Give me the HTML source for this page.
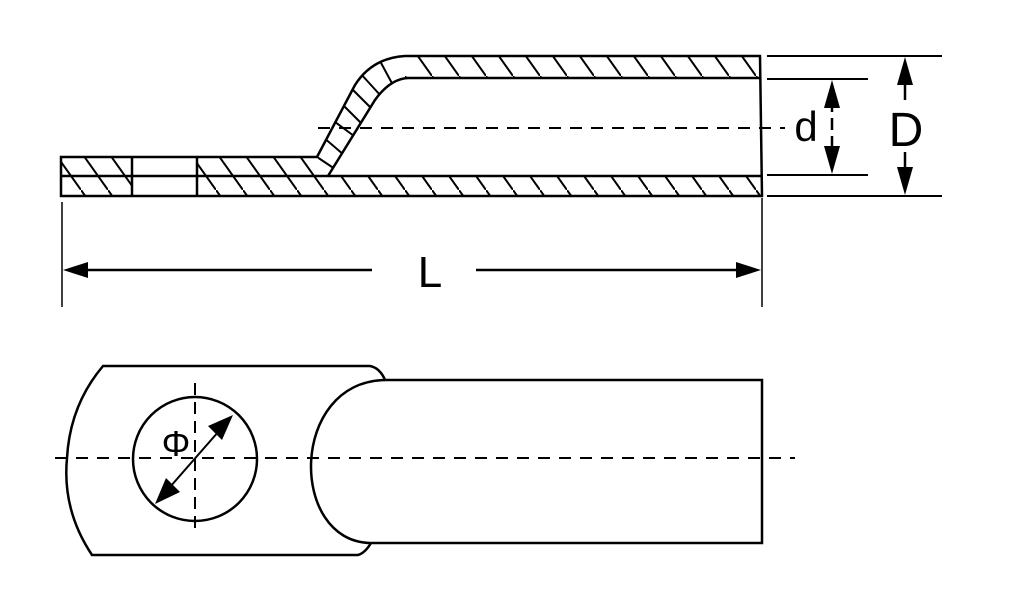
<!DOCTYPE html>
<html><head><style>html,body{margin:0;padding:0;background:#fff}svg{display:block}</style></head>
<body>
<svg width="1009" height="609" viewBox="0 0 1009 609" xmlns="http://www.w3.org/2000/svg">
<defs>
<pattern id="h" patternUnits="userSpaceOnUse" width="27" height="38">
<line x1="-2" y1="-2.8" x2="29" y2="40.8" stroke="#000" stroke-width="2"/>
</pattern>
<clipPath id="cband"><path d="M317,157 L355,85 Q372,58 405,56 L408,79 Q390,79 375,100 L328,176 Z"/></clipPath>
</defs>
<g fill="none" stroke="#000" stroke-width="2.5">
<rect x="61" y="157" width="71" height="39" fill="url(#h)" stroke="none"/>
<rect x="197" y="157" width="120" height="39" fill="url(#h)" stroke="none"/>
<rect x="317" y="176" width="444" height="20" fill="url(#h)" stroke="none"/>
<rect x="405" y="56" width="355" height="22" fill="url(#h)" stroke="none"/>
<g clip-path="url(#cband)" stroke-width="2">
<line x1="314" y1="155" x2="335" y2="169"/>
<line x1="323" y1="137" x2="344" y2="155"/>
<line x1="331" y1="119" x2="354" y2="136"/>
<line x1="341" y1="103" x2="362" y2="124"/>
<line x1="351" y1="88" x2="372" y2="109"/>
<line x1="360" y1="73" x2="381" y2="96"/>
<line x1="380" y1="61" x2="394" y2="87"/>
</g>
<path d="M61,157 L317,157 L355,85 Q372,58 405,56 L760,56 L762,196 L61,196 Z"/>
<path d="M61,176 L328,176 L375,100 Q390,79 408,78 L760,78"/>
<line x1="328" y1="176" x2="762" y2="176"/>
<line x1="132" y1="157" x2="132" y2="196"/>
<line x1="197" y1="157" x2="197" y2="196"/>
</g>
<g stroke="#000" stroke-width="2" fill="none">
<line x1="318" y1="128" x2="785" y2="128" stroke-dasharray="12,9"/>
<line x1="767" y1="56" x2="942" y2="56"/>
<line x1="767" y1="196" x2="942" y2="196"/>
<line x1="767" y1="79" x2="868" y2="79"/>
<line x1="767" y1="175" x2="868" y2="175"/>
<line x1="832" y1="100" x2="832" y2="155" stroke-dasharray="12,6" stroke-width="2.5"/>
<line x1="905" y1="75" x2="905" y2="100" stroke-width="2.5"/>
<line x1="905" y1="152" x2="905" y2="178" stroke-width="2.5"/>
<line x1="62" y1="202" x2="62" y2="307" stroke-width="1.5"/>
<line x1="762" y1="198" x2="762" y2="307" stroke-width="1.5"/>
<line x1="75" y1="270" x2="372" y2="270" stroke-width="2.5"/>
<line x1="476" y1="270" x2="750" y2="270" stroke-width="2.5"/>
</g>
<g fill="#000">
<polygon points="832,80 824,108 840,108"/>
<polygon points="832,174 824,146 840,146"/>
<polygon points="905,57 897,85 913,85"/>
<polygon points="905,195 897,167 913,167"/>
<polygon points="63,270 88,262 88,278"/>
<polygon points="761,270 736,262 736,278"/>
</g>
<g font-family="'Liberation Sans',sans-serif" fill="#000">
<text x="806" y="141" font-size="42" text-anchor="middle">d</text>
<text x="906" y="146" font-size="48" text-anchor="middle">D</text>
<text x="430" y="287" font-size="44" text-anchor="middle">L</text>
<text x="176" y="456" font-size="36" text-anchor="middle">Φ</text>
</g>
<g fill="none" stroke="#000" stroke-width="2.5">
<path d="M103,366 L370,366 Q380,368 385,380 L762,380 L762,543 L371,543 Q365,553 358,555 L92,555 Q62,510 67,458 Q70,405 103,366 Z"/>
<path d="M385,380 C289,382 289,541 370,543"/>
<circle cx="195" cy="459" r="62"/>
</g>
<g stroke="#000" stroke-width="2" fill="none">
<line x1="55" y1="458" x2="795" y2="458" stroke-dasharray="12,9"/>
<line x1="195" y1="383" x2="195" y2="532" stroke-dasharray="12,7"/>
<line x1="163" y1="495" x2="226" y2="423"/>
</g>
<g fill="#000">
<polygon points="233,415 208,426 222,440"/>
<polygon points="155,504 166,478 180,492"/>
</g>
</svg>
</body></html>
